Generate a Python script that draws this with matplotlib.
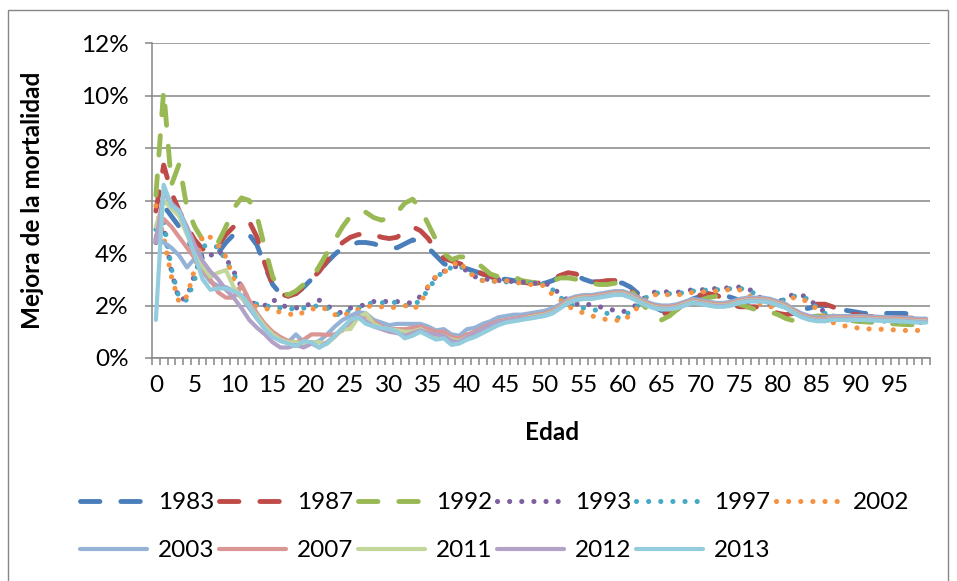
import numpy as np
import matplotlib
matplotlib.use("Agg")
from matplotlib import pyplot as plt
from matplotlib.ticker import PercentFormatter, FixedLocator
from matplotlib.patches import Rectangle

plt.rcParams['font.family'] = ['Lato', 'DejaVu Sans']

# edades 0..99
edades = list(range(100))

# mejora de la mortalidad (%), una tabla por año
m1983 = [4.5, 5.8, 5.4, 5.0, 4.5, 4.1, 3.8, 3.75, 4.0, 4.4,
         4.7, 4.8, 4.7, 4.3, 3.5, 2.8, 2.45, 2.4, 2.45, 2.7,
         3.0, 3.3, 3.65, 3.95, 4.2, 4.3, 4.4, 4.4, 4.35, 4.25,
         4.2, 4.2, 4.35, 4.5, 4.4, 4.2, 3.9, 3.6, 3.45, 3.45,
         3.4, 3.3, 3.2, 3.1, 3.0, 3.0, 2.95, 2.9, 2.85, 2.85,
         2.85, 2.95, 3.1, 3.2, 3.15, 3.0, 2.9, 2.9, 2.9, 2.9,
         2.85, 2.7, 2.45, 2.2, 1.95, 1.8, 1.8, 1.95, 2.1, 2.25,
         2.35, 2.45, 2.45, 2.4, 2.3, 2.2, 2.1, 2.15, 2.2, 2.2,
         2.1, 2.0, 1.9, 1.85, 1.9, 2.0, 2.0, 1.95, 1.85, 1.8,
         1.75, 1.7, 1.7, 1.7, 1.7, 1.7, 1.7, 1.68, 1.65, 1.65]
m1987 = [5.6, 7.35, 6.3, 5.6, 5.0, 4.5, 4.15, 4.1, 4.3, 4.7,
         5.0, 5.2, 5.2, 4.6, 3.6, 2.8, 2.45, 2.35, 2.45, 2.7,
         3.0, 3.3, 3.7, 4.1, 4.4, 4.6, 4.7, 4.75, 4.7, 4.6,
         4.55, 4.6, 4.85, 5.0, 4.85, 4.55, 4.1, 3.8, 3.7, 3.6,
         3.5, 3.35, 3.2, 3.1, 3.0, 3.0, 2.95, 2.9, 2.85, 2.85,
         2.9, 3.0, 3.15, 3.25, 3.2, 3.0, 2.9, 2.9, 2.95, 2.95,
         2.85, 2.6, 2.3, 2.0, 1.8, 1.7, 1.7, 1.85, 2.1, 2.3,
         2.4, 2.45, 2.4, 2.25, 2.05, 1.95, 1.95, 1.95, 1.9, 1.8,
         1.7, 1.65, 1.7, 1.85, 1.95, 2.05, 2.05, 1.95, 1.8, 1.7,
         1.65, 1.6, 1.58, 1.56, 1.55, 1.55, 1.53, 1.52, 1.5, 1.5]
m1992 = [6.2, 10.2, 6.6, 7.4, 5.7, 5.0, 4.5, 4.25, 4.4, 5.0,
         5.7, 6.1, 6.0, 5.4, 4.2, 3.1, 2.55, 2.4, 2.55, 2.8,
         3.0, 3.5, 4.0, 4.5, 5.0, 5.4, 5.6, 5.55, 5.35, 5.25,
         5.35, 5.55, 5.9, 6.05, 5.7, 5.1, 4.5, 4.0, 3.75, 3.85,
         3.85, 3.7, 3.45, 3.2, 3.1, 3.1, 3.1, 2.95, 2.9, 2.85,
         2.85, 2.95, 3.05, 3.05, 3.0, 2.95, 2.85, 2.8, 2.8, 2.85,
         2.8, 2.6, 2.25, 1.9, 1.55, 1.45, 1.6, 1.85, 2.0, 2.1,
         2.2, 2.3, 2.35, 2.3, 2.2, 2.05, 1.95, 1.85, 1.8, 1.75,
         1.65, 1.5, 1.42, 1.45, 1.55, 1.6, 1.6, 1.55, 1.5, 1.45,
         1.4, 1.38, 1.36, 1.34, 1.32, 1.3, 1.28, 1.27, 1.25, 1.25]
m1993 = [4.4, 5.0, 3.3, 2.2, 2.3, 3.2, 4.0, 3.9, 4.1, 3.8,
         3.3, 2.7, 2.2, 2.0, 2.0, 2.25, 2.0, 1.95, 1.9, 2.0,
         2.05, 2.2, 2.0, 1.8, 1.7, 1.9, 1.95, 2.05, 2.15, 2.1,
         2.2, 2.15, 2.1, 2.1, 2.35, 2.7, 3.1, 3.3, 3.4, 3.55,
         3.3, 3.1, 3.0, 3.0, 2.95, 2.95, 2.9, 2.9, 2.85, 2.85,
         2.85, 2.7, 2.4, 2.2, 2.05, 2.1, 2.0, 1.95, 1.9, 1.8,
         1.75, 1.9, 2.05, 2.35, 2.5, 2.55, 2.5, 2.5, 2.55, 2.6,
         2.6, 2.6, 2.65, 2.65, 2.7, 2.7, 2.65, 2.5, 2.2, 2.05,
         2.1, 2.35, 2.4, 2.4, 2.25, 1.95, 1.75, 1.6, 1.5, 1.5,
         1.5, 1.48, 1.47, 1.46, 1.45, 1.44, 1.43, 1.42, 1.4, 1.4]
m1997 = [4.9, 5.2, 3.4, 2.25, 2.2, 3.0, 4.3, 4.2, 4.25, 3.7,
         3.2, 2.6, 2.15, 2.05, 1.95, 2.0, 1.9, 1.85, 1.9, 1.9,
         1.95, 2.0, 1.9, 1.7, 1.6, 1.85, 1.9, 2.05, 2.1, 2.1,
         2.15, 2.1, 2.0, 2.0, 2.2, 2.6, 3.05, 3.3, 3.45, 3.5,
         3.35, 3.1, 2.95, 2.95, 2.9, 2.9, 2.9, 2.85, 2.85, 2.85,
         2.8, 2.6, 2.3, 2.1, 1.95, 1.9, 1.85, 1.8, 1.7, 1.55,
         1.5, 1.8, 2.0, 2.3, 2.45, 2.5, 2.45, 2.45, 2.5, 2.55,
         2.55, 2.6, 2.6, 2.6, 2.65, 2.65, 2.6, 2.45, 2.15, 2.0,
         2.05, 2.3, 2.35, 2.35, 2.2, 1.9, 1.7, 1.55, 1.45, 1.45,
         1.45, 1.43, 1.42, 1.41, 1.4, 1.39, 1.38, 1.37, 1.35, 1.35]
m2002 = [5.8, 4.6, 3.1, 2.1, 2.35, 3.4, 4.7, 4.6, 4.3, 3.85,
         3.0, 2.4, 2.05, 1.95, 1.9, 1.8, 1.75, 1.7, 1.6, 1.75,
         1.85, 1.95, 1.85, 1.65, 1.6, 1.75, 1.85, 1.95, 2.0, 1.95,
         1.9, 1.95, 2.0, 1.85, 2.05, 2.75, 3.1, 3.25, 3.5, 3.7,
         3.3, 3.1, 2.95, 2.95, 2.9, 2.95, 2.9, 2.85, 2.8, 2.8,
         2.75, 2.4, 2.2, 1.95, 1.85, 1.7, 1.6, 1.55, 1.45, 1.45,
         1.4, 1.65, 1.95, 2.25, 2.4, 2.45, 2.4, 2.4, 2.45, 2.5,
         2.5, 2.55, 2.55, 2.6, 2.6, 2.6, 2.45, 2.2, 2.0, 1.95,
         2.0, 2.2, 2.3, 2.25, 2.1, 1.85, 1.55, 1.35, 1.25, 1.2,
         1.15, 1.12, 1.1, 1.1, 1.08, 1.07, 1.05, 1.05, 1.05, 1.05]
m2003 = [4.5, 4.4, 4.2, 3.9, 3.45, 3.8, 3.3, 2.9, 2.75, 2.7,
         2.55, 2.3, 1.9, 1.5, 1.15, 0.85, 0.65, 0.6, 0.9, 0.6,
         0.55, 0.65, 0.9, 1.2, 1.45, 1.6, 1.75, 1.7, 1.45, 1.35,
         1.25, 1.3, 1.3, 1.3, 1.3, 1.2, 1.05, 1.1, 0.9, 0.85,
         1.1, 1.15, 1.3, 1.4, 1.55, 1.6, 1.65, 1.65, 1.7, 1.75,
         1.8, 1.9, 2.05, 2.25, 2.35, 2.4, 2.4, 2.45, 2.5, 2.55,
         2.55, 2.45, 2.3, 2.15, 2.05, 2.0, 2.0, 2.05, 2.15, 2.25,
         2.2, 2.15, 2.1, 2.1, 2.15, 2.25, 2.3, 2.3, 2.3, 2.25,
         2.15, 2.05, 1.85, 1.7, 1.6, 1.55, 1.55, 1.6, 1.6, 1.6,
         1.6, 1.6, 1.58, 1.57, 1.56, 1.55, 1.54, 1.52, 1.5, 1.5]
m2007 = [4.6, 5.3, 5.0, 4.6, 4.2, 3.8, 3.4, 3.0, 2.5, 2.3,
         2.3, 2.8, 2.2, 1.7, 1.3, 1.0, 0.8, 0.65, 0.6, 0.7,
         0.9, 0.9, 0.88, 0.9, 1.05, 1.35, 1.6, 1.6, 1.4, 1.2,
         1.1, 1.1, 1.1, 1.15, 1.2, 1.1, 1.0, 1.0, 0.8, 0.75,
         0.9, 1.0, 1.15, 1.3, 1.4, 1.45, 1.5, 1.55, 1.6, 1.65,
         1.7, 1.8, 2.0, 2.2, 2.3, 2.35, 2.35, 2.4, 2.45, 2.5,
         2.5, 2.4, 2.25, 2.1, 2.0, 1.95, 1.95, 2.0, 2.1, 2.2,
         2.15, 2.1, 2.05, 2.05, 2.1, 2.2, 2.25, 2.25, 2.25, 2.2,
         2.1, 2.0, 1.8, 1.65, 1.55, 1.5, 1.5, 1.55, 1.55, 1.55,
         1.55, 1.55, 1.53, 1.52, 1.51, 1.5, 1.49, 1.47, 1.45, 1.45]
m2011 = [5.0, 6.0, 5.7, 5.4, 4.7, 4.0, 3.5, 3.1, 3.25, 3.35,
         2.7, 2.3, 2.0, 1.6, 1.2, 0.9, 0.7, 0.6, 0.6, 0.55,
         0.6, 0.6, 0.55, 0.8, 1.1, 1.1, 1.55, 1.7, 1.3, 1.15,
         1.1, 1.05, 1.0, 1.0, 1.1, 0.95, 0.85, 0.85, 0.7, 0.65,
         0.8, 0.9, 1.05, 1.2, 1.35, 1.4, 1.45, 1.5, 1.55, 1.6,
         1.65, 1.75, 1.95, 2.15, 2.25, 2.3, 2.3, 2.35, 2.4, 2.45,
         2.45, 2.35, 2.2, 2.05, 1.95, 1.9, 1.9, 1.95, 2.05, 2.15,
         2.1, 2.05, 2.0, 2.0, 2.05, 2.15, 2.2, 2.2, 2.2, 2.15,
         2.05, 1.95, 1.75, 1.6, 1.5, 1.45, 1.45, 1.5, 1.5, 1.5,
         1.5, 1.5, 1.48, 1.47, 1.46, 1.45, 1.44, 1.42, 1.4, 1.4]
m2012 = [4.4, 6.3, 5.9, 5.6, 5.0, 4.3, 3.7, 3.3, 3.0, 2.6,
         2.3, 1.9, 1.45, 1.15, 0.9, 0.6, 0.4, 0.4, 0.5, 0.4,
         0.55, 0.4, 0.6, 0.85, 1.15, 1.4, 1.6, 1.4, 1.2, 1.1,
         1.0, 0.95, 0.85, 0.95, 1.05, 0.95, 0.9, 0.85, 0.65, 0.6,
         0.8, 0.95, 1.1, 1.25, 1.35, 1.4, 1.45, 1.5, 1.52, 1.57,
         1.62, 1.72, 1.92, 2.12, 2.22, 2.27, 2.28, 2.33, 2.38, 2.42,
         2.42, 2.32, 2.17, 2.02, 1.92, 1.88, 1.88, 1.93, 2.02, 2.12,
         2.08, 2.02, 1.98, 1.98, 2.02, 2.12, 2.18, 2.18, 2.18, 2.12,
         2.02, 1.92, 1.72, 1.58, 1.48, 1.43, 1.43, 1.48, 1.48, 1.48,
         1.48, 1.48, 1.46, 1.45, 1.44, 1.43, 1.42, 1.4, 1.38, 1.38]
m2013 = [1.45, 6.6, 5.8, 5.6, 4.8, 3.9, 3.0, 2.6, 2.65, 2.65,
         2.55, 2.4, 2.0, 1.5, 1.1, 0.8, 0.65, 0.55, 0.45, 0.65,
         0.6, 0.4, 0.55, 0.85, 1.15, 1.45, 1.55, 1.3, 1.2, 1.15,
         1.1, 1.0, 0.75, 0.85, 1.0, 0.85, 0.7, 0.75, 0.5, 0.55,
         0.7, 0.8, 0.95, 1.1, 1.25, 1.35, 1.4, 1.45, 1.5, 1.55,
         1.6, 1.7, 1.9, 2.1, 2.2, 2.25, 2.25, 2.3, 2.35, 2.4,
         2.4, 2.3, 2.15, 2.0, 1.9, 1.85, 1.85, 1.9, 2.0, 2.1,
         2.05, 2.0, 1.95, 1.95, 2.0, 2.1, 2.15, 2.15, 2.15, 2.1,
         2.0, 1.9, 1.7, 1.55, 1.45, 1.4, 1.4, 1.45, 1.45, 1.45,
         1.45, 1.45, 1.43, 1.42, 1.41, 1.4, 1.39, 1.37, 1.35, 1.35]

anios = ["1983", "1987", "1992", "1993", "1997", "2002",
         "2003", "2007", "2011", "2012", "2013"]
series = [m1983, m1987, m1992, m1993, m1997, m2002,
          m2003, m2007, m2011, m2012, m2013]
colores = ["#4A7EBB", "#BE4B48", "#98B954", "#7D60A0", "#46AAC5", "#F69240",
           "#95B3D7", "#D99694", "#C3D69B", "#B3A2C7", "#93CDDD"]

W, H = 957, 581
fs = 17.5
fig = plt.figure(figsize=(W / 100, H / 100), dpi=100)
ax = fig.add_axes([152 / W, 1 - 358 / H, (930 - 152) / W, (358 - 43) / H])

gris = "#868686"
lineas = []
for i, (nombre, vals, c) in enumerate(zip(anios, series, colores)):
    if i < 3:   # guiones largos
        ln, = ax.plot(edades, vals, color=c, lw=3.5, ls=(0, (4.0, 4.3)),
                      dash_capstyle="round", label=nombre)
    elif i < 6:  # puntos redondos
        ln, = ax.plot(edades, vals, color=c, lw=3.7, ls=(0, (0.01, 2.35)),
                      dash_capstyle="round", label=nombre)
    else:
        ln, = ax.plot(edades, vals, color=c, lw=3.0, solid_capstyle="round",
                      label=nombre)
    lineas.append(ln)

ax.set_xlim(-0.5, 99.5)
ax.set_ylim(0, 12)
ax.set_yticks(range(0, 13, 2))
ax.yaxis.set_major_formatter(PercentFormatter(100, decimals=0))
ax.grid(axis="y", color=gris, lw=1.1)
ax.set_axisbelow(True)

ax.xaxis.set_major_locator(FixedLocator(range(0, 100, 5)))
ax.xaxis.set_minor_locator(FixedLocator(np.arange(-0.5, 100, 1)))
ax.tick_params(axis="x", which="major", length=0, pad=12, labelsize=fs)
ax.tick_params(axis="x", which="minor", length=5, width=1.1, color=gris,
               direction="out")
ax.tick_params(axis="y", length=5, width=1.1, color=gris, pad=12,
               labelsize=fs)

for s in ["top", "right"]:
    ax.spines[s].set_visible(False)
for s in ["left", "bottom"]:
    ax.spines[s].set_color(gris)
    ax.spines[s].set_linewidth(1.1)

fig.text(33 / W, 1 - 200 / H, "Mejora de la mortalidad", rotation=90,
         ha="center", va="center", fontsize=fs, fontweight="bold")
fig.text(552 / W, 1 - 432 / H, "Edad", ha="center", va="center",
         fontsize=fs, fontweight="bold")

# leyenda en dos filas, orden por filas como en Excel
orden = [0, 6, 1, 7, 2, 8, 3, 9, 4, 10, 5]
fig.legend([lineas[k] for k in orden], [anios[k] for k in orden],
           ncol=6, loc="upper left", bbox_to_anchor=(80 / W, 1 - 492 / H),
           frameon=False, fontsize=fs, handlelength=2.75,
           handletextpad=0.45, columnspacing=0.2, labelspacing=1.12,
           borderpad=0, borderaxespad=0)

# borde del área del gráfico
fig.patches.append(Rectangle((8 / W, -0.05), (948 - 8) / W, 1 - 10 / H + 0.05,
                             transform=fig.transFigure, fill=False,
                             edgecolor=gris, lw=1))

fig.savefig("out.png", dpi=100)
